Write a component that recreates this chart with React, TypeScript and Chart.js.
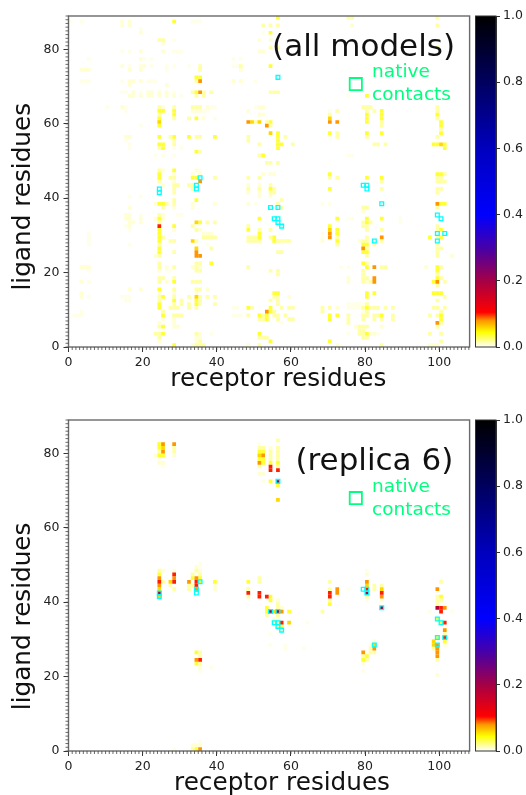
import React, { useEffect, useRef } from "react";
import { Chart, registerables } from "chart.js";
Chart.register(...registerables);

// rows: [ligand residue, receptor residue, receptor residue, ...]
type Row = number[];
const allFaint: Row[] = [[87,0,3,33,34,35],[85,19],[84,52],[82,28],[79,14,16,28,29,30],[77,5,20,22,44,46],[75,16,22,26,28,32,44,45],[74,26],[71,3,4,5,14,21,22,23,50],[68,14,15,19,28],[67,30,75],[64,10,15,38,39,50],[63,15,36,37,70],[61,39],[59,19],[56,70],[55,15],[54,16],[53,16,28,30],[51,23,25,28,75,76],[47,35],[40,16,19],[38,50,68,70],[35,19,29,30],[34,75,76,89],[33,89],[32,15],[31,16],[30,5,68],[29,5,68],[28,5],[27,5,16,37],[21,73,75],[20,5,26,27],[17,5],[13,5,14,15,16],[12,15,16],[11,75,76,77,78,79],[10,44,45,75,76,77,78],[9,3,79],[8,1,2,3,44,45,46],[6,57],[3,38,75,83]];
const allPale: Row[] = [[87,14,16],[86,14,16,76],[84,19],[82,51,54],[81,25],[79,19,25,51,52],[77,19],[75,14,19,20],[74,3,4,5,16,19,46],[71,16,17,19,44,46],[70,16,26],[68,17,21,22,24,26],[67,16,17,19,21,22,24,26,28],[64,14,25,37,51,52],[63,33,34,35,48],[62,51,52],[61,36],[56,15,16],[47,25,34],[46,28,33,35,52,54,55],[44,28],[43,25,48,51],[41,48,51],[40,51,54],[38,23,33,39,48],[37,16,28,33],[36,79],[35,15,16,25],[34,15,16,19,23,25],[33,16,17,19],[32,16],[31,28,35],[30,36,37,38],[28,68,78],[24,23,103],[21,3,4,5,26,33,35,96],[20,24],[18,75],[17,3,26,75,80],[15,16,19,37],[14,3,24,28,34],[13,3,59],[10,72],[7,25,28],[6,24,28],[5,28,29,77,84],[3,35,81,82],[2,34,35],[1,24,34],[0,33,48,72,97,98,99]];
const allLight: Row[] = [[88,75,76,99],[86,52,54,56,99],[82,24,25],[80,54,56,99],[75,35,46],[74,35],[71,34],[68,33,36,38,54,55,56],[67,34,36],[64,24,28,33,34,35,79,80,81,99],[63,72,80,82,99],[62,24,70],[61,28,32,99],[60,50,53,84],[59,54,84],[58,100],[57,72],[56,27,34,35,48,58,72,80,99],[55,28,48],[54,28,51,60,82,83,85],[53,24],[52,35],[51,51],[49,53,54,56],[47,24],[46,101],[45,27,28,39,48,51,70,72,99,100],[44,24,84,99,100,101],[43,28,29,32,33,54],[42,28,33,48,51,55,84,99,100],[41,28,54,55,99],[39,28,57],[38,26,28,56],[37,25,57,79,80,99],[35,24],[33,24,37,39,79,81],[32,33,48,79,80,99],[31,34,51,54,80,84,99],[29,25,36,37,38,39,48,49,50,54,72,80,99],[28,27,28,34,48,49,50,51,55,56,57,58,59,79,80,84],[27,24,72,82,99],[26,38,80,99,100],[25,28,56,57,99],[24,24,80,99],[22,24,34,35,80],[21,24,28,34,48,84,85,100],[20,34,35,54,56,79],[19,56,79,99],[18,24,25,28,79,80,100],[17,24,33,34,35,79,81,101],[16,99],[15,28,34,35],[13,24,28,32,35,37,39,55,56,101],[12,24,30,35,54,56,99],[11,28,30,32,35,39,56,80],[10,27,28,29,32,34,49,57,59,60,68,70,79,81,82,83,85,87,98,99,101],[9,25,54,55,68,80,100],[8,28,29,30,48,52,55,56,58,75,79,80,82,83,87,97,99],[7,51,52,56,59,60,75,79,82,84,87],[6,75,100],[5,24,78,79,80,99],[4,78,79],[3,23,24,34,78,79,97,100],[2,24,51,52,53,79,80],[1,35,100],[0,34,35,36,51,84]];
const allYellow: Row[] = [[88,56],[87,28],[84,54],[75,54],[72,34,35],[68,34],[67,80],[63,24,25,28,84],[62,28,80,84,99],[61,24,34,80,84],[60,24,54,80,100],[59,24,100],[57,56,70,80,84,100],[56,24,28,32,39,56],[55,56],[54,24,25,56,57,98,99,101],[53,25,56,101],[52,34],[51,52],[47,28],[46,24,70,99,100],[45,24,33,34,80,84],[42,54,70],[39,34],[38,24,25,100,101],[34,24,51,72,80,84],[33,35,80],[32,28,70],[31,24,48,72,100],[30,24,51,72],[29,24,51,55,97,100],[28,24,55,72],[27,79,80],[26,24],[25,24,79,80],[22,38,79],[21,80,99],[20,99],[18,99],[17,28,98],[15,24],[14,55,56,80,82,98,99,100],[13,25,80],[12,28,34],[11,24,34],[10,24,48,54,80],[9,54],[8,25,51,53,70,72,84,100],[7,53,70,100],[5,25],[3,25,51,80],[1,54,70],[0,28]];
const allGold: Row[] = [[60,24,49,51],[61,70],[57,54],[54,100],[33,34],[31,70],[28,33],[26,34],[13,34]];
const allOrange: Row[] = [[71,35],[68,35],[60,48,70,72],[59,53],[44,35],[38,99],[30,70],[29,70,84],[26,79],[25,34],[24,34,35],[21,82],[18,82],[17,82,99],[9,53],[6,99]];
const allRed: Row[] = [[32,24]];

const repFaint: Row[] = [[82,51],[78,24],[76,25],[72,52],[50,35],[49,35],[48,80],[40,80],[38,57],[37,97,103],[34,64],[31,54],[28,54,58],[27,58,63],[25,79],[21,35,79],[22,38],[20,99],[2,35],[0,28],[29,82],[43,75]];
const repPale: Row[] = [[81,54],[79,23,28],[77,24,25],[74,51,52],[49,34],[48,25,28,35],[47,80],[47,35],[44,39],[43,39,48],[40,56],[41,80],[40,84],[32,57],[35,56,55],[28,81,101],[29,82],[23,79],[22,35],[1,33,34,35],[20,99],[38,57]];
const repLight: Row[] = [[82,24],[81,28,51,52,56],[80,24,28,54,56],[79,54,56],[78,54,56],[83,56],[76,51,56],[48,24,34],[47,33,35],[46,51],[45,25,51,100],[44,27,32,33,84,82],[43,28,32,70,48,82],[41,48,99,80],[40,99,100,70],[39,99,56],[38,56,99],[37,68],[36,56],[45,70],[34,55,56],[33,56],[32,101],[31,101],[27,98,81],[26,35,81,82],[25,35,79],[24,99,80],[23,35],[0,33],[36,53]];
const repYellow: Row[] = [[82,24],[81,24],[79,24,25],[80,51,52],[78,51,52],[77,52,54,56],[72,54],[71,56],[47,24],[46,33,35],[45,35,39,48],[41,54,100],[40,54],[39,70],[38,53],[37,53,59],[33,57],[29,101],[26,34],[25,80],[24,79],[23,34],[0,34],[35,99],[34,100],[30,99]];
const repGold: Row[] = [[81,25],[79,51],[67,56],[45,27],[44,80],[43,24,84],[37,55],[34,59],[29,98],[28,98,82],[27,99],[41,24]];
const repOrange: Row[] = [[82,25,28],[80,25],[79,52],[77,51],[46,28,34,24],[45,32],[44,24],[43,34,72,99],[42,72],[41,84],[38,101],[37,57],[32,101],[28,99],[27,82,99],[26,79,99],[25,99],[24,34],[0,35],[45,80]];
const repRed: Row[] = [[76,54],[75,54,56],[47,28],[45,24,28,34],[44,34],[42,48,51,84],[41,51,53,70],[42,70],[38,100],[37,100],[34,57,101],[30,101],[24,35],[43,80]];
const repCrimson: Row[] = [[72,56],[42,24,80],[38,99],[37,54,56],[38,84]];

const levels = { faint: 0.004, pale: 0.008, light: 0.016, yellow: 0.036, gold: 0.058, orange: 0.08, red: 0.1, crimson: 0.18 };
const allCells: [number, Row[]][] = [[levels.faint, allFaint],[levels.pale, allPale],[levels.light, allLight],[levels.yellow, allYellow],[levels.gold, allGold],[levels.orange, allOrange],[levels.red, allRed]];
const repCells: [number, Row[]][] = [[levels.faint, repFaint],[levels.pale, repPale],[levels.light, repLight],[levels.yellow, repYellow],[levels.gold, repGold],[levels.orange, repOrange],[levels.red, repRed],[levels.crimson, repCrimson]];

const nativeX = [24,24,34,34,35,54,56,55,56,56,57,79,80,80,84,99,100,99,101,99,82,56];
const nativeY = [42,41,43,42,45,37,37,34,34,33,32,43,43,42,38,35,34,30,30,28,28,72];

const xTicks = [0, 20, 40, 60, 80, 100];
const yTicks = [0, 20, 40, 60, 80];
const barTicks = [0, 0.2, 0.4, 0.6, 0.8, 1];
const stops: [number, number[]][] = [[0,[255,255,255]],[0.045,[255,255,0]],[0.08,[255,150,0]],[0.105,[255,0,0]],[0.2,[165,0,70]],[0.3,[70,0,170]],[0.4,[0,0,255]],[0.6,[0,0,190]],[0.8,[0,0,95]],[1,[0,0,0]]];

function colorOf(v: number) {
  for (let i = 1; i < stops.length; i++) {
    if (v <= stops[i][0]) {
      const [a, ca] = stops[i - 1], [b, cb] = stops[i];
      const t = (v - a) / (b - a);
      return `rgb(${ca.map((c, k) => Math.round(c + (cb[k] - c) * t)).join(",")})`;
    }
  }
  return "rgb(0,0,0)";
}
const TEXT = "#222";
const FONT = "DejaVu Sans";
const SOFT = "blur(0.55px)";
const LEFT = 68.5, TOP = 16, PLOT_H = 331, AXIS_H = 54, RIGHT_PAD = 9;
const CELL_RADIUS = 3.72 / Math.SQRT2;

const framePlugin = {
  id: "frame",
  afterDraw(chart: any) {
    const { ctx, chartArea: a, scales } = chart;
    ctx.save();
    ctx.strokeStyle = "#6a6a6a";
    ctx.lineWidth = 1.4;
    ctx.strokeRect(a.left, a.top, a.right - a.left, a.bottom - a.top);
    ctx.strokeStyle = "#444";
    ctx.lineWidth = 0.8;
    for (let i = 0; i <= 108; i++) {
      const p = scales.x.getPixelForValue(i);
      ctx.beginPath(); ctx.moveTo(p, a.bottom); ctx.lineTo(p, a.bottom + 3); ctx.stroke();
    }
    for (let i = 0; i <= 89; i++) {
      const p = scales.y.getPixelForValue(i);
      ctx.beginPath(); ctx.moveTo(a.left, p); ctx.lineTo(a.left - 3, p); ctx.stroke();
    }
    const note = chart.options.plugins.note;
    ctx.textBaseline = "middle";
    ctx.fillStyle = "#111";
    ctx.font = `31px "${FONT}"`;
    ctx.textAlign = "center";
    ctx.fillText(note.title, scales.x.getPixelForValue(note.titleX), scales.y.getPixelForValue(note.titleY));
    ctx.font = `24.7px "${FONT}"`;
    ctx.fillText("receptor residues", scales.x.getPixelForValue(note.xLabelAt), a.bottom + 33);
    ctx.save();
    ctx.translate(24, scales.y.getPixelForValue(note.yLabelAt));
    ctx.rotate(-Math.PI / 2);
    ctx.fillText("ligand residues", 0, 0);
    ctx.restore();
    ctx.fillStyle = "#00ff7f";
    ctx.font = `18.5px "${FONT}"`;
    ctx.textAlign = "left";
    const lx = scales.x.getPixelForValue(81.9);
    ctx.fillText("native", lx, scales.y.getPixelForValue(note.textY));
    ctx.fillText("contacts", lx, scales.y.getPixelForValue(note.textY - 6.2));
    ctx.restore();
  },
};

function Heat({ cells, title, titleX, titleY, boxY, textY, xLabelAt, yLabelAt, top }: any) {
  const ref = useRef<HTMLCanvasElement>(null);
  useEffect(() => {
    const points: any[] = [];
    cells.forEach(([v, rows]: [number, Row[]]) =>
      rows.forEach(([y, ...xs]) => xs.forEach((x) => points.push({ x: x + 0.5, y: y + 0.5, v })))
    );
    const chart = new Chart(ref.current!, {
      type: "scatter",
      plugins: [framePlugin],
      data: {
        datasets: [
          {
            label: "native legend",
            data: [{ x: 77.5, y: boxY }],
            pointStyle: "rect",
            pointRadius: 8.6,
            backgroundColor: "transparent",
            borderColor: "#00ff7f",
            borderWidth: 1.8,
            order: 0,
          },
          {
            label: "native contacts",
            data: nativeX.map((x, i) => ({ x: x + 0.5, y: nativeY[i] + 0.5 })),
            pointStyle: "rect",
            pointRadius: CELL_RADIUS,
            backgroundColor: "transparent",
            borderColor: "#00ffff",
            borderWidth: 1.3,
            order: 1,
          },
          {
            label: "contacts",
            data: points,
            pointStyle: "rect",
            pointRadius: CELL_RADIUS,
            borderWidth: 0,
            backgroundColor: (c: any) => colorOf(c.raw?.v ?? 0),
            order: 2,
          },
        ],
      } as any,
      options: {
        animation: false,
        responsive: false,
        layout: { padding: { top: TOP, right: RIGHT_PAD, left: 0, bottom: 0 } },
        plugins: {
          legend: { display: false },
          tooltip: { enabled: false },
          note: { title, titleX, titleY, textY, xLabelAt, yLabelAt },
        } as any,
        scales: {
          x: {
            type: "linear",
            min: 0,
            max: 108.2,
            afterFit: (s: any) => { s.height = AXIS_H; },
            afterBuildTicks: (s: any) => { s.ticks = xTicks.map((value) => ({ value })); },
            grid: { drawOnChartArea: false, tickLength: 5, color: "#333", tickWidth: 1 },
            border: { display: false },
            ticks: { font: { family: FONT, size: 12.5 }, color: TEXT, padding: 3, maxRotation: 0 },
          },
          y: {
            type: "linear",
            min: 0,
            max: 89,
            afterFit: (s: any) => { s.width = LEFT; },
            afterBuildTicks: (s: any) => { s.ticks = yTicks.map((value) => ({ value })); },
            grid: { drawOnChartArea: false, tickLength: 5, color: "#333", tickWidth: 1 },
            border: { display: false },
            ticks: { font: { family: FONT, size: 12.5 }, color: TEXT, padding: 4 },
          },
        },
      } as any,
    });
    return () => chart.destroy();
  }, []);
  return (
    <canvas
      ref={ref}
      width={480}
      height={TOP + PLOT_H + AXIS_H}
      style={{ position: "absolute", left: 0, top, width: 480, height: TOP + PLOT_H + AXIS_H, filter: SOFT }}
    />
  );
}

function Bar({ top }: { top: number }) {
  const ref = useRef<HTMLCanvasElement>(null);
  useEffect(() => {
    const chart = new Chart(ref.current!, {
      type: "bar",
      data: {
        labels: ["scale"],
        datasets: [
          {
            data: [[0, 1]],
            barPercentage: 1,
            categoryPercentage: 1,
            borderWidth: 0,
            backgroundColor: (c: any) => {
              const a = c.chart.chartArea;
              if (!a) return "#000";
              const g = c.chart.ctx.createLinearGradient(0, a.bottom, 0, a.top);
              stops.forEach(([v]) => g.addColorStop(v, colorOf(v)));
              return g;
            },
          },
        ],
      } as any,
      options: {
        animation: false,
        responsive: false,
        layout: { padding: { top: TOP, bottom: AXIS_H, left: 5.5, right: 0 } },
        plugins: { legend: { display: false }, tooltip: { enabled: false } },
        scales: {
          x: { display: false },
          y: {
            position: "right",
            min: 0,
            max: 1,
            afterFit: (s: any) => { s.width = 30; },
            afterBuildTicks: (s: any) => { s.ticks = barTicks.map((value) => ({ value })); },
            grid: { drawOnChartArea: false, tickLength: 4, color: "#333", tickWidth: 1 },
            border: { display: true, color: "#333", width: 1 },
            ticks: { font: { family: FONT, size: 12.5 }, color: TEXT, padding: 3, callback: (v: any) => Number(v).toFixed(1) },
          },
        },
      } as any,
      plugins: [
        {
          id: "barFrame",
          afterDraw(c: any) {
            const a = c.chartArea;
            c.ctx.save();
            c.ctx.strokeStyle = "#333";
            c.ctx.lineWidth = 1;
            c.ctx.strokeRect(a.left, a.top, a.right - a.left, a.bottom - a.top);
            c.ctx.restore();
          },
        },
      ],
    });
    return () => chart.destroy();
  }, []);
  return (
    <canvas
      ref={ref}
      width={56}
      height={TOP + PLOT_H + AXIS_H}
      style={{ position: "absolute", left: 470, top, width: 56, height: TOP + PLOT_H + AXIS_H, filter: SOFT }}
    />
  );
}

export default function App() {
  useEffect(() => {
    document.body.style.margin = "0";
    document.body.style.background = "#fff";
  }, []);
  return (
    <div style={{ position: "relative", width: 526, height: 795, overflow: "hidden" }}>
      <Heat cells={allCells} title="(all models)" titleX={79.6} titleY={80.5} boxY={70.7} textY={73.8} xLabelAt={56.6} yLabelAt={40.4} top={0} />
      <Bar top={0} />
      <Heat cells={repCells} title="(replica 6)" titleX={82.5} titleY={77.8} boxY={68} textY={71} xLabelAt={57.6} yLabelAt={36.2} top={404} />
      <Bar top={404} />
    </div>
  );
}
